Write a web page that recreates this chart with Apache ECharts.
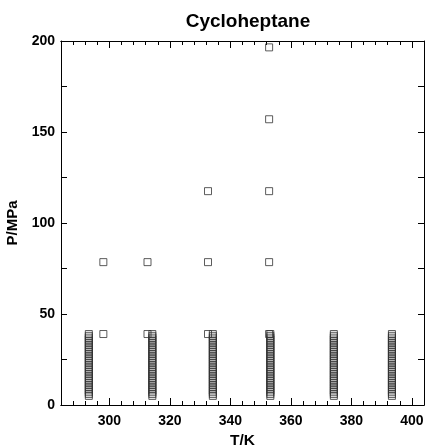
<!DOCTYPE html>
<html>
<head>
<meta charset="utf-8">
<script src="https://cdn.jsdelivr.net/npm/echarts@6/dist/echarts.min.js"></script>
<style>html,body{margin:0;padding:0;background:#fff}#c{width:427px;height:446px}</style>
</head>
<body>
<div id="c"></div>
<script>
// Temperatures (K) of the dense isotherm columns
var columnTemps = [293.2, 314.2, 334.2, 353.2, 374.2, 393.4];
// Pressures (MPa) measured along each isotherm column
var columnPressures = [
  [5,6,7,8,9,10,11,12,13,14,15,16,17,18,19,20,21,22,23,24,25,26,27,28,29,30,31,32,33,34,35,36,37,38,39],
  [5,6,7,8,9,10,11,12,13,14,15,16,17,18,19,20,21,22,23,24,25,26,27,28,29,30,31,32,33,34,35,36,37,38,39],
  [5,6,7,8,9,10,11,12,13,14,15,16,17,18,19,20,21,22,23,24,25,26,27,28,29,30,31,32,33,34,35,36,37,38,39],
  [5,6,7,8,9,10,11,12,13,14,15,16,17,18,19,20,21,22,23,24,25,26,27,28,29,30,31,32,33,34,35,36,37,38,39],
  [5,6,7,8,9,10,11,12,13,14,15,16,17,18,19,20,21,22,23,24,25,26,27,28,29,30,31,32,33,34,35,36,37,38,39],
  [5,6,7,8,9,10,11,12,13,14,15,16,17,18,19,20,21,22,23,24,25,26,27,28,29,30,31,32,33,34,35,36,37,38,39]
];
// Sparse high-pressure points
var sparseT = [298.0, 298.0, 312.6, 312.6, 332.6, 332.6, 332.6, 352.8, 352.8, 352.8, 352.8, 352.8];
var sparseP = [39.0, 78.5, 39.0, 78.5, 39.0, 78.5, 117.5, 39.0, 78.5, 117.5, 157.0, 196.5];
// Axis ticks
var xMajorTicks = [300, 320, 340, 360, 380, 400];
var xMin = 284, xMax = 404, xMinorStep = 4;
var yMin = 0, yMax = 200, yStep = 25, yLabelStep = 50;

var pts = [];
columnTemps.forEach(function (t, i) {
  columnPressures[i].forEach(function (p) { pts.push([t, p]); });
});
sparseT.forEach(function (t, i) { pts.push([t, sparseP[i]]); });

var font = 'Liberation Sans, Arial, sans-serif';
var lineStyle = { color: '#000', width: 1 };
function xAx(pos, major, showLabel, name) {
  var a = {
    type: 'value', position: pos, min: xMin, max: xMax, interval: xMinorStep,
    axisLine: { show: true, onZero: false, lineStyle: lineStyle },
    axisTick: { show: true, inside: true, length: major ? 7 : 4, lineStyle: lineStyle },
    axisLabel: { show: showLabel, color: '#000', fontFamily: font, fontWeight: 'bold', fontSize: 14, margin: 9 },
    splitLine: { show: false }
  };
  if (major) {
    a.axisTick.customValues = xMajorTicks;
    a.axisLabel.customValues = xMajorTicks;
  }
  if (name) {
    a.name = name; a.nameLocation = 'middle'; a.nameGap = 25;
    a.nameTextStyle = { color: '#000', fontFamily: font, fontWeight: 'bold', fontSize: 15.5 };
  }
  return a;
}
function yAx(pos, showLabel, name) {
  var a = {
    type: 'value', position: pos, min: yMin, max: yMax, interval: yStep,
    axisLine: { show: true, onZero: false, lineStyle: lineStyle },
    axisTick: { show: true, inside: true, length: 6, lineStyle: lineStyle },
    axisLabel: { show: showLabel, color: '#000', fontFamily: font, fontWeight: 'bold', fontSize: 14, margin: 6,
      formatter: function (v) { return v % yLabelStep === 0 ? String(v) : ''; } },
    splitLine: { show: false }
  };
  if (name) {
    a.name = name; a.nameLocation = 'middle'; a.nameGap = 32;
    a.nameTextStyle = { color: '#000', fontFamily: font, fontWeight: 'bold', fontSize: 15 };
  }
  return a;
}

var chart = echarts.init(document.getElementById('c'), null, { renderer: 'canvas' });
chart.setOption({
  animation: false,
  backgroundColor: '#fff',
  title: {
    text: 'Cycloheptane', left: 243, top: 7, textAlign: 'center',
    textStyle: { color: '#000', fontFamily: font, fontWeight: 'bold', fontSize: 19 }
  },
  grid: { left: 61, right: 3, top: 41, bottom: 41, containLabel: false, outerBoundsMode: 'none' },
  xAxis: [
    xAx('bottom', false, false),
    xAx('bottom', true, true, 'T/K'),
    xAx('top', false, false),
    xAx('top', true, false)
  ],
  yAxis: [
    yAx('left', true, 'P/MPa'),
    yAx('right', false)
  ],
  series: [{
    type: 'scatter', xAxisIndex: 0, yAxisIndex: 0,
    data: pts, symbol: 'rect', symbolSize: 7,
    itemStyle: { color: 'rgba(255,255,255,0)', borderColor: '#333', borderWidth: 1 }
  }]
});
</script>
</body>
</html>
